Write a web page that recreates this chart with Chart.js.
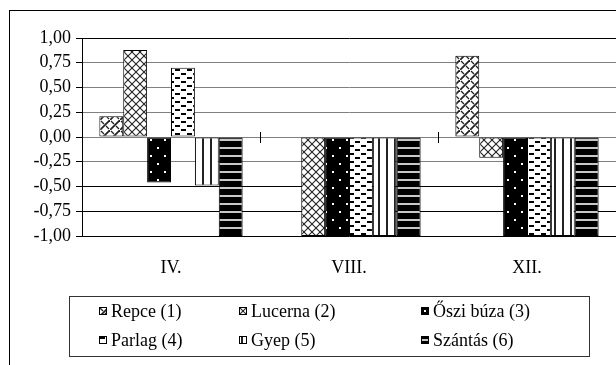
<!DOCTYPE html>
<html><head><meta charset="utf-8">
<script src="https://cdn.jsdelivr.net/npm/chart.js@4"></script>
<style>html,body{margin:0;padding:0;background:#fff}canvas{display:block}</style>
</head><body>
<canvas id="c" width="616" height="365"></canvas>
<script>
const categories = ['IV.', 'VIII.', 'XII.'];
const seriesNames = ['Repce (1)', 'Lucerna (2)', 'Őszi búza (3)', 'Parlag (4)', 'Gyep (5)', 'Szántás (6)'];
const repce    = [0.21, 0.00, 0.82];
const lucerna  = [0.88, -1.00, -0.21];
const osziBuza = [-0.46, -1.00, -1.00];
const parlag   = [0.70, -1.00, -1.00];
const gyep     = [-0.49, -1.00, -1.00];
const szantas  = [-1.00, -1.00, -1.00];
const yTickValues = [-1.00, -0.75, -0.50, -0.25, 0.00, 0.25, 0.50, 0.75, 1.00];

const FONT = '"Liberation Serif", "Times New Roman", serif';
const FSIZE = 18;

function makePattern(w, h, bg, draw) {
  const c = document.createElement('canvas');
  c.width = w; c.height = h;
  const g = c.getContext('2d');
  g.fillStyle = bg; g.fillRect(0, 0, w, h);
  draw(g);
  return document.getElementById('c').getContext('2d').createPattern(c, 'repeat');
}
const patRepce = makePattern(10, 10, '#fff', g => {
  g.strokeStyle = '#222'; g.lineWidth = 1.8;
  g.beginPath(); g.moveTo(-1, 11); g.lineTo(11, -1); g.stroke();
  g.lineWidth = 1.2;
  g.beginPath(); g.moveTo(1, 1); g.lineTo(4, 4); g.stroke();
  g.beginPath(); g.moveTo(6, 6); g.lineTo(9, 9); g.stroke();
});
const patLucerna = makePattern(8, 8, '#fff', g => {
  g.strokeStyle = '#222'; g.lineWidth = 1.1;
  g.beginPath(); g.moveTo(0, 0); g.lineTo(8, 8); g.stroke();
  g.beginPath(); g.moveTo(0, 8); g.lineTo(8, 0); g.stroke();
});
const patOszi = makePattern(14, 16, '#000', g => {
  g.fillStyle = '#fff';
  g.fillRect(3, 3, 2, 2);
  g.fillRect(10, 11, 2, 2);
});
const patParlag = makePattern(12, 8, '#fff', g => {
  g.fillStyle = '#000';
  g.fillRect(1, 1, 5, 2);
  g.fillRect(7, 5, 5, 2);
});
const patGyep = makePattern(8, 1, '#fff', g => {
  g.fillStyle = '#222';
  g.fillRect(2, 0, 2, 1);
});
const patSzantas = makePattern(1, 8, '#000', g => {
  g.fillStyle = '#c8c8c8';
  g.fillRect(0, 3, 1, 2);
});

const seriesValues = [repce, lucerna, osziBuza, parlag, gyep, szantas];
const patterns = [patRepce, patLucerna, patOszi, patParlag, patGyep, patSzantas];

const datasets = seriesNames.map((name, i) => ({
  label: name,
  data: seriesValues[i],
  backgroundColor: patterns[i],
  borderColor: '#000',
  borderWidth: 1,
  borderSkipped: false,
  categoryPercentage: 0.805,
  barPercentage: 1.0
}));

const framePlugin = {
  id: 'frame',
  beforeDraw(chart) {
    const ctx = chart.ctx;
    ctx.save();
    ctx.fillStyle = '#fff';
    ctx.fillRect(0, 0, chart.width, chart.height);
    ctx.strokeStyle = '#000'; ctx.lineWidth = 1;
    ctx.strokeRect(9.5, 10.5, 700, 500);
    ctx.restore();
  }
};

const zeroTicksPlugin = {
  id: 'zeroTicks',
  afterDatasetsDraw(chart) {
    const ctx = chart.ctx, xs = chart.scales.x, ys = chart.scales.y;
    const y0 = Math.round(ys.getPixelForValue(0));
    ctx.save();
    ctx.strokeStyle = '#000'; ctx.lineWidth = 1;
    for (let i = 1; i < categories.length; i++) {
      const x = Math.round((xs.getPixelForTick(i - 1) + xs.getPixelForTick(i)) / 2) + 0.5;
      ctx.beginPath(); ctx.moveTo(x, y0 - 5); ctx.lineTo(x, y0 + 6); ctx.stroke();
    }
    ctx.restore();
  }
};

const legendPlugin = {
  id: 'gridLegend',
  afterDraw(chart) {
    const ctx = chart.ctx;
    const box = {x: 69.5, y: 296.5, w: 520, h: 60};
    const colIcon = [99, 239, 421];
    const rowY = [311, 340];
    ctx.save();
    ctx.strokeStyle = '#333'; ctx.lineWidth = 1;
    ctx.strokeRect(box.x, box.y, box.w, box.h);
    ctx.font = FSIZE + 'px ' + FONT;
    ctx.textBaseline = 'middle';
    ctx.fillStyle = '#000';
    chart.data.datasets.forEach((ds, i) => {
      const col = i % 3, row = Math.floor(i / 3);
      const ix = colIcon[col], iy = rowY[row] - 4;
      ctx.save();
      ctx.translate(ix, iy);
      ctx.fillStyle = ds.backgroundColor;
      ctx.fillRect(0, 0, 8, 8);
      ctx.restore();
      ctx.strokeStyle = '#000';
      ctx.strokeRect(ix + 0.5, iy + 0.5, 7, 7);
      ctx.fillStyle = '#000';
      ctx.fillText(ds.label, ix + 12, rowY[row] + 1);
    });
    ctx.restore();
  }
};

new Chart(document.getElementById('c'), {
  type: 'bar',
  data: { labels: categories, datasets },
  options: {
    responsive: false,
    animation: false,
    devicePixelRatio: 1,
    layout: { padding: { left: 0, top: 38, right: 0, bottom: 0 } },
    plugins: { legend: { display: false }, tooltip: { enabled: false } },
    scales: {
      x: {
        grid: { display: false, drawTicks: false },
        border: { display: false },
        ticks: { color: '#000', padding: 21, font: { family: FONT, size: FSIZE } },
        afterFit: s => { s.height = 129; }
      },
      y: {
        min: -1, max: 1,
        afterBuildTicks: s => { s.ticks = yTickValues.map(v => ({ value: v })); },
        grid: {
          color: c => (c.tick && (c.tick.value >= 1 || c.tick.value <= -0.5)) ? '#000' : '#808080',
          tickColor: '#000',
          tickLength: 6,
          drawTicks: true
        },
        border: { display: true, color: '#000', width: 1 },
        ticks: {
          color: '#000', padding: 5,
          font: { family: FONT, size: FSIZE },
          callback: v => Number(v).toFixed(2).replace('.', ',')
        },
        afterFit: s => { s.width = 82; }
      }
    }
  },
  plugins: [framePlugin, zeroTicksPlugin, legendPlugin]
});
</script>
</body></html>
